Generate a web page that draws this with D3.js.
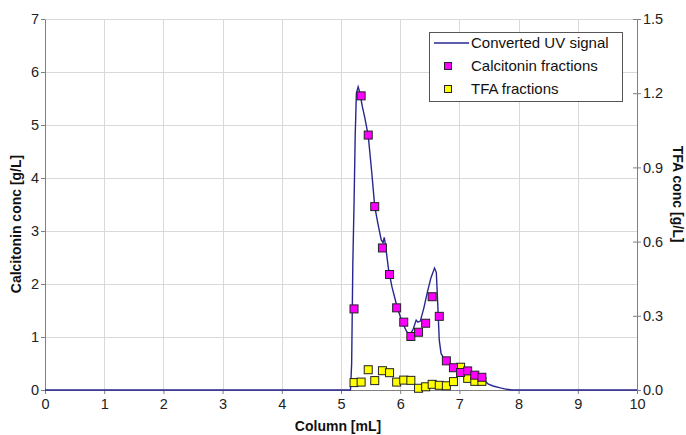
<!DOCTYPE html>
<html>
<head>
<meta charset="utf-8">
<script src="https://cdn.jsdelivr.net/npm/d3@7"></script>
<style>
  body { margin: 0; background: #fff; }
  svg { display: block; font-family: "Liberation Sans", Arial, sans-serif; }
</style>
</head>
<body>
<svg id="chart" width="686" height="435"></svg>
<script>
// ---- data ----
const uvX = [0, 5.16, 5.18, 5.20, 5.22, 5.24, 5.26, 5.29, 5.32, 5.36, 5.40, 5.46, 5.52, 5.57, 5.63, 5.68, 5.71, 5.73, 5.75, 5.80, 5.86, 5.94, 6.02, 6.10, 6.16, 6.22, 6.27, 6.30, 6.34, 6.40, 6.46, 6.52, 6.58, 6.61, 6.635, 6.66, 6.69, 6.75, 6.84, 6.96, 7.07, 7.18, 7.30, 7.40, 7.49, 7.57, 7.69, 7.80, 7.90, 10];
const uvY = [0, 0, 0.5, 2.4, 3.5, 4.8, 5.6, 5.72, 5.6, 5.35, 5.15, 4.8, 4.1, 3.46, 3.1, 2.83, 2.78, 2.88, 2.75, 2.3, 1.95, 1.6, 1.32, 1.12, 1.03, 1.15, 1.32, 1.28, 1.30, 1.55, 1.85, 2.12, 2.30, 2.22, 1.6, 0.94, 0.69, 0.57, 0.50, 0.44, 0.36, 0.30, 0.25, 0.19, 0.11, 0.075, 0.04, 0.013, 0, 0];

const fracX = [5.22, 5.34, 5.46, 5.57, 5.70, 5.82, 5.94, 6.06, 6.18, 6.31, 6.43, 6.54, 6.66, 6.78, 6.90, 7.02, 7.14, 7.26, 7.38];
const calcitonin = [1.53, 5.55, 4.81, 3.46, 2.68, 2.18, 1.55, 1.28, 1.01, 1.09, 1.26, 1.76, 1.39, 0.55, 0.42, 0.33, 0.36, 0.28, 0.24];
const tfa = [0.030, 0.032, 0.082, 0.038, 0.078, 0.070, 0.032, 0.040, 0.039, 0.007, 0.013, 0.023, 0.019, 0.017, 0.034, 0.092, 0.047, 0.035, 0.035];

const xTicks = [0, 1, 2, 3, 4, 5, 6, 7, 8, 9, 10];
const yLeftTicks = [0, 1, 2, 3, 4, 5, 6, 7];
const yRightTicks = [0, 0.3, 0.6, 0.9, 1.2, 1.5];

const legendLabels = ["Converted UV signal", "Calcitonin fractions", "TFA fractions"];

// ---- layout ----
const svg = d3.select("#chart");
const L = 45, R = 637, T = 19, B = 390;

const x = d3.scaleLinear().domain([0, 10]).range([L, R]);
const yL = d3.scaleLinear().domain([0, 7]).range([B, T]);
const yR = d3.scaleLinear().domain([0, 1.5]).range([B, T]);

const gridColor = "#d9d9d9";
const axisColor = "#808080";
const lineColor = "#27278f";

// grid
svg.append("g").selectAll("line.v").data(xTicks.slice(1)).join("line")
  .attr("x1", d => Math.round(x(d)) + 0.5).attr("x2", d => Math.round(x(d)) + 0.5)
  .attr("y1", T).attr("y2", B).attr("stroke", gridColor).attr("stroke-width", 1);
svg.append("g").selectAll("line.h").data(yLeftTicks.slice(1)).join("line")
  .attr("x1", L).attr("x2", R)
  .attr("y1", d => Math.round(yL(d)) + 0.5).attr("y2", d => Math.round(yL(d)) + 0.5)
  .attr("stroke", gridColor).attr("stroke-width", 1);

function styleAxis(g) {
  g.selectAll("path.domain").attr("stroke", axisColor);
  g.selectAll(".tick line").attr("stroke", axisColor);
  g.selectAll(".tick text").attr("fill", "#222").style("font-size", "14.5px")
   .style("font-family", "'Liberation Sans', Arial, sans-serif");
}

// axes
const gx = svg.append("g").attr("transform", `translate(0,${B})`)
  .call(d3.axisBottom(x).tickValues(xTicks).tickFormat(d3.format("d")).tickSizeInner(4).tickSizeOuter(0).tickPadding(5));
styleAxis(gx);

const gyl = svg.append("g").attr("transform", `translate(${L},0)`)
  .call(d3.axisLeft(yL).tickValues(yLeftTicks).tickFormat(d3.format("d")).tickSizeInner(4).tickSizeOuter(0).tickPadding(2));
styleAxis(gyl);

const gyr = svg.append("g").attr("transform", `translate(${R},0)`)
  .call(d3.axisRight(yR).tickValues(yRightTicks).tickFormat(d3.format(".1f")).tickSizeInner(4).tickSizeOuter(0).tickPadding(2));
styleAxis(gyr);
gyr.selectAll(".tick line").attr("x1", -4);

// UV line
const uvData = uvX.map((d, i) => [d, uvY[i]]);
svg.append("path").datum(uvData)
  .attr("fill", "none").attr("stroke", lineColor).attr("stroke-width", 1.4)
  .attr("d", d3.line().x(d => x(d[0])).y(d => yL(d[1])));

// markers
const ms = 8;
svg.append("g").selectAll("rect").data(fracX.map((d, i) => [d, tfa[i]])).join("rect")
  .attr("x", d => x(d[0]) - ms / 2).attr("y", d => yR(d[1]) - ms / 2)
  .attr("width", ms).attr("height", ms)
  .attr("fill", "#ffff00").attr("stroke", "#222").attr("stroke-width", 1);
svg.append("g").selectAll("rect").data(fracX.map((d, i) => [d, calcitonin[i]])).join("rect")
  .attr("x", d => x(d[0]) - ms / 2).attr("y", d => yL(d[1]) - ms / 2)
  .attr("width", ms).attr("height", ms)
  .attr("fill", "#ff00ff").attr("stroke", "#222").attr("stroke-width", 1);

// axis titles
svg.append("text").attr("x", 338).attr("y", 431).attr("text-anchor", "middle")
  .style("font-size", "14px").style("font-weight", "bold").attr("fill", "#111").text("Column [mL]");
svg.append("text").attr("transform", "translate(21,224) rotate(-90)").attr("text-anchor", "middle")
  .style("font-size", "14px").style("font-weight", "bold").attr("fill", "#111").text("Calcitonin conc [g/L]");
svg.append("text").attr("transform", "translate(673,194) rotate(90)").attr("text-anchor", "middle")
  .style("font-size", "14px").style("font-weight", "bold").attr("fill", "#111").text("TFA conc [g/L]");

// legend
const lg = svg.append("g");
lg.append("rect").attr("x", 429.5).attr("y", 32.5).attr("width", 193).attr("height", 69)
  .attr("fill", "#fff").attr("stroke", "#555").attr("stroke-width", 1);
lg.append("line").attr("x1", 434).attr("x2", 469).attr("y1", 43).attr("y2", 43)
  .attr("stroke", lineColor).attr("stroke-width", 1.5);
lg.append("rect").attr("x", 444.5).attr("y", 62.5).attr("width", 7).attr("height", 7)
  .attr("fill", "#ff00ff").attr("stroke", "#222");
lg.append("rect").attr("x", 444.5).attr("y", 85.5).attr("width", 7).attr("height", 7)
  .attr("fill", "#ffff00").attr("stroke", "#222");
lg.selectAll("text").data(legendLabels).join("text")
  .attr("x", d => 471).attr("y", (d, i) => 48 + i * 23)
  .style("font-size", "15px").attr("fill", "#111").text(d => d);
</script>
</body>
</html>
